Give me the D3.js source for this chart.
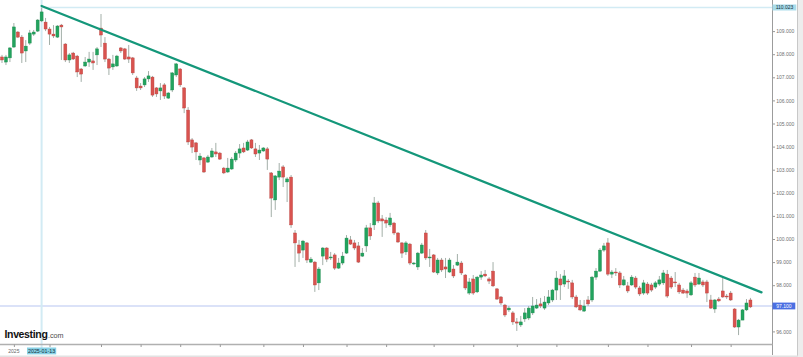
<!DOCTYPE html>
<html><head><meta charset="utf-8">
<script src="https://cdn.jsdelivr.net/npm/d3@7"></script>
<style>html,body{margin:0;padding:0;background:#fff;}svg{display:block;font-family:"Liberation Sans",Arial,sans-serif;}</style>
</head><body><svg id="c" width="803" height="357"></svg>
<script>
// ---- data ----
const openV = [107.88,107.66,107.84,108.31,108.96,108.74,108.14,108.48,108.87,109.00,109.44,109.39,109.09,108.87,108.74,109.26,108.44,107.75,108.05,107.92,107.36,107.49,107.66,107.71,107.97,109.13,108.48,107.79,107.45,107.49,108.27,108.23,107.88,107.84,106.97,106.62,106.67,106.93,107.01,106.54,106.41,106.67,106.10,106.45,107.10,107.36,106.54,105.58,104.29,104.16,103.42,103.51,103.33,103.55,103.77,103.72,103.07,102.90,103.03,103.42,103.72,103.94,103.85,104.29,103.90,103.72,103.81,103.90,102.86,101.69,102.68,103.12,102.47,102.68,100.26,99.74,99.52,99.83,99.00,99.00,98.10,99.26,99.61,99.18,99.31,98.74,98.96,99.39,99.96,99.83,99.70,99.26,99.70,100.48,100.61,101.56,100.87,100.82,100.61,100.69,100.26,99.83,99.44,99.78,98.92,98.79,99.39,100.26,99.18,99.31,98.53,99.09,98.79,98.57,98.70,98.87,98.96,98.44,97.66,98.27,97.71,98.35,98.48,98.27,98.61,97.84,97.49,97.14,96.93,96.80,96.41,96.28,96.54,96.58,96.80,97.01,97.19,97.01,97.23,97.36,97.79,98.27,98.05,98.18,98.10,97.49,97.14,96.88,97.36,97.36,98.35,98.61,99.52,99.83,98.48,98.57,98.53,98.01,97.97,98.01,98.31,97.88,97.66,98.05,98.01,97.92,98.05,98.10,98.48,98.31,98.14,98.01,97.79,97.75,97.58,98.35,98.05,98.14,98.14,97.36,96.97,97.40,97.75,97.53,97.66,96.97,96.19,96.49,96.93,97.36];
const highV = [107.97,107.97,108.31,109.35,109.00,108.83,108.61,109.05,109.05,109.52,110.02,109.57,109.18,109.26,109.26,109.31,108.48,108.05,108.10,107.97,107.40,107.88,108.10,108.10,108.31,109.74,108.74,107.84,107.97,107.97,108.31,108.27,108.40,107.88,107.06,106.75,107.01,107.27,107.06,106.58,106.75,106.75,106.36,107.23,107.62,107.40,106.58,105.71,104.37,104.20,103.72,103.55,103.64,103.94,104.16,103.77,103.12,103.51,103.55,103.81,104.11,104.16,104.29,104.33,104.16,104.07,103.98,103.98,102.90,102.77,103.29,103.20,102.68,102.77,100.39,99.96,99.96,99.87,99.22,99.05,98.79,99.65,99.65,99.44,99.39,99.18,99.44,100.17,100.13,99.96,99.87,99.61,100.61,100.69,101.82,101.65,101.04,100.95,101.13,100.74,100.30,99.87,99.91,99.83,99.00,99.44,99.83,100.39,99.57,99.35,99.18,99.18,99.18,99.18,98.87,99.35,99.05,98.48,98.31,98.44,98.40,98.61,98.66,98.35,99.00,97.88,97.53,97.19,97.10,96.88,96.58,96.67,97.01,97.10,97.49,97.40,97.45,97.53,97.79,97.84,98.61,98.48,98.66,98.27,98.23,97.58,97.36,97.36,97.53,98.40,98.74,99.61,99.83,100.04,98.66,98.74,98.61,98.40,98.14,98.44,98.40,97.97,98.23,98.14,98.10,98.18,98.40,98.66,98.66,98.40,98.57,98.10,97.88,97.84,98.18,98.53,98.53,98.23,98.23,97.58,97.40,97.49,98.31,97.62,97.75,97.01,96.54,96.97,97.40,97.45];
const lowV = [107.62,107.53,107.66,108.27,108.70,107.62,107.66,108.40,108.79,108.96,109.39,109.00,108.40,108.70,108.70,107.75,107.66,107.62,107.75,107.01,106.80,107.45,107.45,107.32,107.53,108.31,107.66,107.10,107.32,107.45,108.05,107.75,107.62,107.10,106.41,106.45,106.58,106.80,106.15,106.15,106.02,106.06,106.06,106.36,107.01,106.58,105.45,104.07,103.72,103.42,103.20,102.86,103.29,103.51,103.55,103.42,102.81,102.86,102.99,103.33,103.51,103.72,103.81,103.90,103.55,103.42,103.77,102.99,100.95,101.26,102.55,102.25,101.60,100.48,98.79,99.00,99.18,98.96,98.96,97.71,97.79,98.87,99.00,99.09,98.66,98.70,98.87,99.35,99.74,99.52,98.96,99.22,99.44,99.96,100.39,100.69,100.09,100.48,100.52,100.17,99.83,99.18,99.31,98.87,98.87,98.66,99.35,99.09,98.79,98.53,98.44,98.57,98.31,98.53,98.31,98.83,98.44,97.79,97.58,97.58,97.66,98.23,98.35,98.05,97.92,97.36,97.14,96.62,96.84,96.28,96.02,96.19,96.41,96.49,96.71,96.97,97.01,96.93,97.14,97.27,97.36,97.36,97.92,97.84,97.40,97.01,96.88,96.84,97.10,97.27,98.23,98.57,99.44,98.40,98.31,98.40,97.88,97.97,97.66,97.97,97.84,97.53,97.58,97.58,97.71,97.84,97.97,98.01,97.45,97.84,97.92,97.62,97.62,97.45,97.53,97.92,98.01,97.92,97.27,96.97,96.80,97.27,97.45,97.40,97.32,96.15,95.84,96.49,96.88,97.01];
const closeV = [107.75,107.88,108.27,109.18,108.74,108.05,108.35,108.92,108.96,109.48,109.83,109.09,108.87,108.79,109.22,109.18,107.75,107.97,107.79,107.23,107.14,107.66,107.79,107.62,108.23,108.83,107.79,107.40,107.58,107.92,108.14,107.79,107.79,107.19,106.54,106.54,106.93,107.06,106.23,106.28,106.54,106.19,106.32,107.19,107.58,106.67,105.67,104.20,103.98,103.77,103.59,102.90,103.55,103.81,103.68,103.46,102.86,103.07,103.46,103.72,103.90,103.77,104.20,103.94,103.68,103.85,103.94,103.46,101.77,102.73,102.94,102.68,102.60,100.61,99.83,99.39,99.91,99.09,99.13,98.01,98.70,99.61,99.13,99.22,98.74,98.96,99.26,100.04,99.78,99.61,99.00,99.39,100.48,100.13,101.56,100.78,100.78,100.69,100.91,100.26,99.87,99.39,99.83,98.96,98.96,99.39,99.74,99.18,99.22,98.57,99.09,98.66,98.70,99.09,98.40,99.00,98.53,97.88,98.14,97.66,98.35,98.44,98.40,98.18,97.97,97.40,97.23,96.71,97.01,96.41,96.36,96.41,96.80,97.01,97.10,97.14,97.10,97.27,97.49,97.79,98.31,98.01,98.40,98.14,97.49,97.06,96.93,97.10,97.19,98.35,98.61,99.52,99.70,98.48,98.57,98.53,98.01,98.23,97.75,98.35,97.92,97.62,98.10,97.66,97.79,98.10,98.23,98.53,97.53,97.92,98.10,97.71,97.66,97.66,98.10,98.01,98.31,98.01,97.66,97.01,97.36,97.32,97.49,97.49,97.36,96.19,96.49,96.93,97.23,97.06];
const startDate = "2024-12-27";
const closedDays = ["2025-01-01","2025-04-18"];
const yTickValues = [96,98,99,100,101,102,103,104,105,106,107,108,109];
const crossIndex = 10;          // hovered candle
const crossLabel = "2025-01-13";
const crossValue = 110.023;
const lastValue = 97.100;
const yearLabel = "2025";
const trendPts = [{i:10, v:110.09}, {i:191.8, v:97.69}];

// ---- trading-day categories ----
const fmt = d3.utcFormat("%Y-%m-%d");
const dates = [];
let d = new Date(startDate + "T00:00:00Z");
while (dates.length < openV.length) {
  const wd = d.getUTCDay();
  if (wd !== 0 && wd !== 6 && !closedDays.includes(fmt(d))) dates.push(new Date(d));
  d = d3.utcDay.offset(d, 1);
}
const candles = dates.map((dt, i) => ({i, date: dt, o: openV[i], h: highV[i], l: lowV[i], c: closeV[i]}));

// ---- scales ----
const svg = d3.select("#c");
const W = 803, H = 357;
const axisX = 772.5, axisY = 344.5;
const x = d3.scaleLinear().domain([0, candles.length - 1]).range([2, 2 + 3.96 * (candles.length - 1)]);
const y = d3.scaleLinear().domain([96, 110]).range([331.4, 8.0]);

svg.append("rect").attr("width", W).attr("height", H).attr("fill", "#fff");

// right border strip & bottom strip
svg.append("rect").attr("x", 798).attr("y", 0).attr("width", 5).attr("height", H).attr("fill", "#ededed");
svg.append("line").attr("x1", 797.5).attr("x2", 797.5).attr("y1", 0).attr("y2", H).attr("stroke", "#c8c8c8");
svg.append("rect").attr("x", 0).attr("y", 355.5).attr("width", 798).attr("height", 2).attr("fill", "#e2e2e2");

// last value line
svg.append("line").attr("x1", 0).attr("x2", axisX).attr("y1", y(lastValue)).attr("y2", y(lastValue))
  .attr("stroke", "#cfd9f6").attr("stroke-width", 1.5);

// crosshair
svg.append("line").attr("x1", x(crossIndex)).attr("x2", x(crossIndex)).attr("y1", 0).attr("y2", 348)
  .attr("stroke", "#d2ebf4").attr("stroke-width", 2);
svg.append("line").attr("x1", x(crossIndex)).attr("x2", axisX).attr("y1", y(crossValue)).attr("y2", y(crossValue))
  .attr("stroke", "#d2ebf4").attr("stroke-width", 1.5);

// logo
const logo = svg.append("text").attr("x", 4.5).attr("y", 337.5);
logo.append("tspan").text("Investing").attr("font-size", 10.5).attr("font-weight", "bold")
  .attr("letter-spacing", -0.35).attr("fill", "#121212");
logo.append("tspan").text(".com").attr("font-size", 7.2).attr("fill", "#4a4a4a").attr("dx", 0.5);

// candles
const g = svg.append("g");
g.selectAll("line.w").data(candles).join("line").attr("class", "w")
  .attr("x1", c => x(c.i)).attr("x2", c => x(c.i))
  .attr("y1", c => y(c.h)).attr("y2", c => y(c.l))
  .attr("stroke", "#a3afa8").attr("stroke-width", 1);
g.selectAll("rect.b").data(candles).join("rect").attr("class", "b")
  .attr("x", c => x(c.i) - 1.5).attr("width", 3)
  .attr("y", c => y(Math.max(c.o, c.c)))
  .attr("height", c => Math.max(0.8, Math.abs(y(c.o) - y(c.c))))
  .attr("fill", c => c.c >= c.o ? "#22a35e" : "#d9534f")
  .attr("stroke", c => c.c >= c.o ? "#1a8a4c" : "#b9403c").attr("stroke-width", 0.4);

// trendline
svg.append("path").datum(trendPts)
  .attr("d", d3.line().x(p => x(p.i)).y(p => y(p.v)))
  .attr("fill", "none").attr("stroke", "#14977a").attr("stroke-width", 2.2).attr("stroke-linecap", "round");

// right axis
svg.append("line").attr("x1", axisX).attr("x2", axisX).attr("y1", 0).attr("y2", 355)
  .attr("stroke", "#9c9c9c").attr("stroke-width", 1);
const yAxis = d3.axisRight(y).tickValues(yTickValues).tickFormat(d3.format(".3f")).tickSize(2.5).tickPadding(1.2);
const ya = svg.append("g").attr("transform", `translate(${axisX},0)`).call(yAxis);
ya.select(".domain").remove();
ya.selectAll(".tick line").attr("stroke", "#9a9a9a");
ya.selectAll(".tick text").attr("font-size", 5).attr("fill", "#707070")
  .attr("font-family", '"Liberation Sans",Arial,sans-serif');

// bottom axis
svg.append("line").attr("x1", 0).attr("x2", axisX).attr("y1", axisY).attr("y2", axisY)
  .attr("stroke", "#b0b0b0").attr("stroke-width", 1.3);
const tickIdx = [];
let prevKey = null;
candles.forEach(c => {
  const key = c.date.getUTCMonth() * 2 + (c.date.getUTCDate() >= 15 ? 1 : 0);
  if (prevKey !== null && key !== prevKey) tickIdx.push(c.i);
  prevKey = key;
});
const xAxis = d3.axisBottom(x).tickValues(tickIdx).tickFormat(() => "").tickSize(2.5);
const xa = svg.append("g").attr("transform", `translate(0,${axisY})`).call(xAxis);
xa.select(".domain").remove();
xa.selectAll(".tick line").attr("stroke", "#9a9a9a");
svg.append("text").attr("x", x(tickIdx[0])).attr("y", 353.2).attr("text-anchor", "middle")
  .attr("font-size", 5).attr("fill", "#666").text(yearLabel);

// crosshair date label
svg.append("rect").attr("x", x(crossIndex) - 14.6).attr("y", 347.5).attr("width", 29.2).attr("height", 6.9)
  .attr("fill", "#88d1e5");
svg.append("text").attr("x", x(crossIndex)).attr("y", 353).attr("text-anchor", "middle")
  .attr("font-size", 5.3).attr("fill", "#16323c").text(crossLabel);

// price labels on right axis
const fmt3 = d3.format(".3f");
svg.append("rect").attr("x", axisX).attr("y", y(crossValue) - 3).attr("width", 23.8).attr("height", 6)
  .attr("fill", "#a9dcea");
svg.append("text").attr("x", axisX + 12).attr("y", y(crossValue) + 1.8).attr("text-anchor", "middle")
  .attr("font-size", 5).attr("fill", "#16323c").text(fmt3(crossValue));
svg.append("rect").attr("x", axisX).attr("y", y(lastValue) - 3.4).attr("width", 22.8).attr("height", 6.8)
  .attr("fill", "#4b6fe2");
svg.append("text").attr("x", axisX + 11.4).attr("y", y(lastValue) + 1.8).attr("text-anchor", "middle")
  .attr("font-size", 5).attr("fill", "#ffffff").text(fmt3(lastValue));
</script></body></html>
